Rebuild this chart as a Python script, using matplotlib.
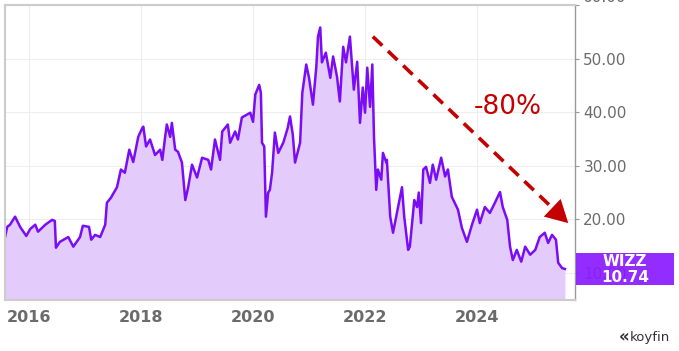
import matplotlib.pyplot as plt
from matplotlib.patches import Rectangle

# decimal years and closing prices
years = [2015.57, 2015.61, 2015.66, 2015.75, 2015.84, 2015.95, 2016.02, 2016.11, 2016.16, 2016.29,
         2016.41, 2016.46, 2016.48, 2016.55, 2016.70, 2016.79, 2016.91, 2016.96, 2017.07, 2017.11,
         2017.18, 2017.27, 2017.36, 2017.39, 2017.46, 2017.57, 2017.64, 2017.71, 2017.79, 2017.86,
         2017.95, 2018.02, 2018.04, 2018.09, 2018.16, 2018.25, 2018.34, 2018.38, 2018.43, 2018.46,
         2018.52, 2018.55, 2018.61, 2018.66, 2018.73, 2018.79, 2018.84, 2018.91, 2019.00, 2019.09,
         2019.20, 2019.25, 2019.32, 2019.41, 2019.45, 2019.55, 2019.59, 2019.68, 2019.73, 2019.80,
         2019.95, 2020.00, 2020.04, 2020.11, 2020.14, 2020.16, 2020.20, 2020.23, 2020.27, 2020.30,
         2020.34, 2020.39, 2020.45, 2020.54, 2020.62, 2020.66, 2020.71, 2020.75, 2020.84, 2020.88,
         2020.95, 2021.00, 2021.07, 2021.13, 2021.16, 2021.20, 2021.23, 2021.30, 2021.38, 2021.43,
         2021.50, 2021.55, 2021.61, 2021.66, 2021.73, 2021.80, 2021.86, 2021.91, 2021.96, 2022.00,
         2022.04, 2022.09, 2022.13, 2022.16, 2022.20, 2022.23, 2022.29, 2022.32, 2022.38, 2022.39,
         2022.45, 2022.50, 2022.59, 2022.66, 2022.70, 2022.77, 2022.80, 2022.88, 2022.93, 2022.96,
         2023.00, 2023.04, 2023.09, 2023.16, 2023.21, 2023.27, 2023.36, 2023.43, 2023.48, 2023.55,
         2023.66, 2023.73, 2023.82, 2023.91, 2024.00, 2024.05, 2024.14, 2024.23, 2024.32, 2024.41,
         2024.46, 2024.54, 2024.59, 2024.64, 2024.71, 2024.79, 2024.86, 2024.95, 2025.04, 2025.12,
         2025.21, 2025.27, 2025.34, 2025.41, 2025.45, 2025.52, 2025.57]
prices = [16.7, 18.6, 19.0, 20.5, 18.6, 16.9, 18.2, 19.0, 17.7, 19.0,
          19.9, 19.7, 14.7, 15.8, 16.7, 14.9, 16.7, 18.8, 18.6, 16.2,
          17.1, 16.7, 19.0, 23.1, 24.0, 26.0, 29.3, 28.7, 33.0, 30.7,
          35.4, 37.0, 37.3, 33.6, 34.9, 32.0, 33.0, 31.1, 35.4, 37.7,
          35.4, 38.0, 33.0, 32.6, 30.6, 23.6, 25.9, 30.2, 27.8, 31.5,
          31.1, 29.3, 34.9, 31.1, 36.4, 37.7, 34.3, 36.4, 34.9, 39.0,
          39.9, 38.2, 43.3, 45.1, 43.6, 34.3, 33.6, 20.5, 25.0, 25.5,
          28.7, 36.2, 32.4, 34.3, 37.1, 39.2, 35.8, 30.6, 34.3, 43.6,
          48.9, 46.4, 41.4, 48.5, 54.1, 55.8, 49.3, 51.1, 46.4, 50.4,
          46.6, 42.0, 52.2, 49.3, 54.1, 44.2, 49.4, 38.0, 44.6, 39.9,
          48.3, 41.0, 48.9, 35.4, 25.5, 29.3, 27.4, 32.4, 30.6, 31.1,
          20.5, 17.5, 22.3, 26.0, 20.5, 14.3, 14.9, 23.6, 22.3, 25.0,
          19.3, 29.3, 29.8, 26.8, 30.2, 27.4, 31.5, 28.0, 29.3, 24.2,
          21.8, 18.4, 15.8, 19.0, 21.8, 19.3, 22.3, 21.2, 23.1, 25.1,
          22.3, 19.9, 14.9, 12.4, 14.3, 12.1, 14.9, 13.4, 14.3, 16.7,
          17.5, 15.6, 17.1, 16.2, 11.9, 10.9, 10.74]

ticker = "WIZZ"
last_price = "10.74"
year_ticks = [2016, 2018, 2020, 2022, 2024]
price_ticks = [10, 20, 30, 40, 50, 60]
drop_label = "-80%"
arrow_start = (2022.14, 54.1)
arrow_end = (2025.63, 19.3)

line_c = '#7a0df5'
fill_c = '#e3cbfb'
red = '#c40000'
gray = '#6b6b6b'

fig = plt.figure(figsize=(6.79, 3.51), dpi=100)
ax = fig.add_axes([5 / 679, 1 - 300 / 351, 570 / 679, 295 / 351])

ax.fill_between(years, prices, 0, color=fill_c, lw=0)
ax.plot(years, prices, color=line_c, lw=1.8, solid_joinstyle='round')

ax.set_xlim(2015.57, 2025.75)
ax.set_ylim(4.95, 60)

ax.set_xticks(year_ticks)
ax.set_xticklabels([str(y) for y in year_ticks], fontsize=11.5, fontweight='bold', color=gray)
ax.tick_params(axis='x', length=0, pad=7)

ax.yaxis.tick_right()
ax.set_yticks(price_ticks)
ax.set_yticklabels(['%.2f' % p for p in price_ticks], fontsize=11, color=gray)
ax.tick_params(axis='y', length=3, width=0.8, color='#999999', pad=3)
# top label sits partly above the canvas in the original
ax.get_yticklabels()[-1].set_verticalalignment('bottom')

ax.grid(True, color='#eeeeee', lw=0.8)
ax.set_axisbelow(True)

for s in ['left', 'top', 'bottom']:
    ax.spines[s].set_color('#cccccc')
    ax.spines[s].set_linewidth(1.5)
ax.spines['right'].set_color('#999999')
ax.spines['right'].set_linewidth(1.0)

# dashed drop arrow
frac = 0.93
mid = (arrow_start[0] + (arrow_end[0] - arrow_start[0]) * frac,
       arrow_start[1] + (arrow_end[1] - arrow_start[1]) * frac)
ax.plot([arrow_start[0], mid[0]], [arrow_start[1], mid[1]], color=red, lw=2.6,
        dashes=(3.6, 2.2), solid_capstyle='butt', zorder=5)
ax.annotate('', xy=arrow_end, xytext=mid,
            arrowprops=dict(arrowstyle='-|>,head_length=1.0,head_width=0.55', color=red,
                            lw=0, mutation_scale=16, shrinkA=0, shrinkB=0), zorder=6)
ax.text(2024.55, 41.0, drop_label, color=red, fontsize=19, ha='center', va='center')

# last price badge
fig.patches.append(Rectangle((576 / 679, 1 - 285 / 351), 98 / 679, 32 / 351,
                             transform=fig.transFigure, facecolor='#8a1cff', alpha=0.93,
                             edgecolor='none', zorder=10))
fig.text(625 / 679, 1 - 262 / 351, ticker, color='white', fontsize=11, fontweight='bold',
         ha='center', va='center', zorder=11)
fig.text(625 / 679, 1 - 277 / 351, last_price, color='white', fontsize=11, fontweight='bold',
         ha='center', va='center', zorder=11)

# watermark
fig.text(624 / 679, 1 - 337 / 351, '\u00ab', color='#333333', fontsize=12, fontweight='bold',
         ha='center', va='center')
fig.text(670 / 679, 1 - 337 / 351, 'koyfin', color='#333333', fontsize=9.5,
         ha='right', va='center')

fig.savefig('out.png', dpi=100)
